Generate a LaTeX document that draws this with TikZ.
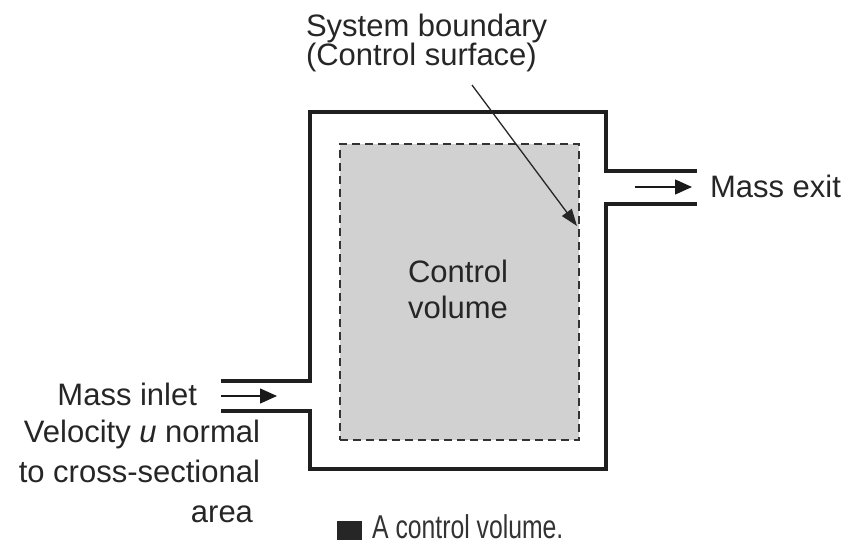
\documentclass[tikz,border=0pt]{standalone}
\usepackage{fontspec}
\setmainfont{Liberation Sans}
\usetikzlibrary{arrows.meta}
\begin{document}
\begin{tikzpicture}[x=1pt,y=-1pt,
  wall/.style={line width=3.2pt, line join=miter, line cap=butt, draw=black!88},
  cvbox/.style={draw=black!80, dash pattern=on 8pt off 5pt, line width=1.5pt, fill=black!18, inner sep=0pt},
  flow/.style={line width=1.3pt, draw=black!90, -{Triangle[length=17pt,width=15pt]}},
  leader/.style={line width=1.3pt, draw=black!85, -{Triangle[length=17pt,width=12pt]}},
  lbl/.style={font=\fontsize{31}{29}\selectfont, text=black!85, inner sep=0pt, outer sep=0pt},
  lblwide/.style={font=\fontsize{31}{40}\selectfont, text=black!85, inner sep=0pt, outer sep=0pt},
  cvlbl/.style={font=\fontsize{31}{36}\selectfont, text=black!85, inner sep=0pt, outer sep=0pt},
]
\useasboundingbox (0,0) rectangle (847,543);

% control volume (dashed)
\node[cvbox, minimum width=239pt, minimum height=296pt, anchor=north west] (cv) at (339,143) {};
\node[cvlbl, align=center] (cvtext) at (458,289) {Control\\volume};

% system boundary walls
\draw[wall] (221,381) -- (310,381) -- (310,112) -- (606,112) -- (606,171) -- (697,171);
\draw[wall] (697,204) -- (606,204) -- (606,469) -- (310,469) -- (310,411) -- (221,411);

% flow arrows
\coordinate (inA) at (221,396);
\coordinate (inB) at (277,396);
\draw[flow] (inA) -- (inB);
\coordinate (exA) at (635,187);
\coordinate (exB) at (692,187);
\draw[flow] (exA) -- (exB);

% labels
\node[lbl, align=left, anchor=north west] (sb) at (306,14.5) {System boundary\\(Control surface)};
\coordinate (leadstart) at (472,85);
\coordinate (leadtip) at (577,226);
\draw[leader] (leadstart) -- (leadtip);

\node[lbl, anchor=base west] (exit) at (710,197) {Mass exit};
\node[lbl, anchor=base east] (inlet) at (197,405) {Mass inlet};
\node[lblwide, align=right, anchor=north east] (vel) at (260,420.5)
  {Velocity \textit{u} normal\\to cross-sectional\\area\hspace*{7pt}};

% caption
\node[fill=black!85, minimum width=25pt, minimum height=19pt, inner sep=0pt, anchor=north west] (bullet) at (337,521) {};
\node[inner sep=0pt, anchor=base west, text=black!80, font=\fontsize{33}{36}\selectfont] (caption) at (372,538.5)
  {\scalebox{0.75}[1]{A control volume.}};
\end{tikzpicture}
\end{document}
